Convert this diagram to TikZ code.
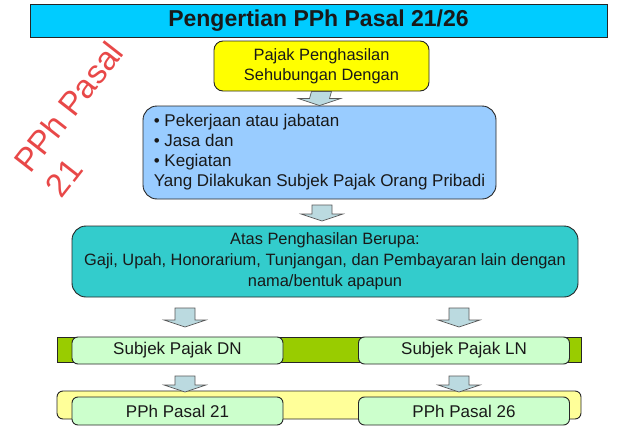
\documentclass[tikz,border=0pt]{standalone}
\usepackage{fontspec}
\setmainfont{Liberation Sans}
\usetikzlibrary{calc}
\definecolor{titlecyan}{HTML}{00CCFF}
\definecolor{boxyellow}{HTML}{FFFF00}
\definecolor{boxblue}{HTML}{99CCFF}
\definecolor{boxteal}{HTML}{33CCCC}
\definecolor{bargreen}{HTML}{99CC00}
\definecolor{boxlgreen}{HTML}{CCFFCC}
\definecolor{baryellow}{HTML}{FFFF99}
\definecolor{arrowfill}{HTML}{BBDAE0}
\definecolor{sidered}{RGB}{232,72,72}
\newcommand\blockarr[2]{%
  \draw[barrow] ($(#1)+(-10,0)$) -- ($(#2)+(-10,-7)$) -- ($(#2)+(-21,-7)$) -- (#2)
    -- ($(#2)+(21,-7)$) -- ($(#2)+(10,-7)$) -- ($(#1)+(10,0)$) -- cycle;}
\begin{document}
\begin{tikzpicture}[x=1pt,y=-1pt,
  box/.style={draw=black!85, line width=0.9pt, inner sep=0pt,
    font=\fontsize{16.4}{20}\selectfont, text=black!90},
  barrow/.style={draw=black!65, fill=arrowfill, line width=0.7pt},
  smallbox/.style={box, fill=boxlgreen, rounded corners=6, minimum width=211, minimum height=27,
    font=\fontsize{17}{20}\selectfont}]
\useasboundingbox (0,0) rectangle (638,442);

\node[box, fill=titlecyan, minimum width=577, minimum height=33,
  font=\fontsize{23}{27}\selectfont\bfseries] (title) at (318.5,20.5) {Pengertian PPh Pasal 21/26};

\node[inner sep=0pt, anchor=center, rotate=52, align=left, text=sidered,
  font=\fontsize{33}{40}\selectfont] (side) at (84,119) {PPh Pasal\\21};

\node[box, fill=boxyellow, rounded corners=9, minimum width=215, minimum height=50,
  align=center] (ppj) at (321.5,66) {Pajak Penghasilan\\Sehubungan Dengan};

\node[box, fill=boxblue, rounded corners=14, minimum height=93, minimum width=353,
  align=left, font=\fontsize{17}{20}\selectfont] (kind) at (319.5,152.5)
  {• Pekerjaan atau jabatan\\• Jasa dan\\• Kegiatan\\Yang Dilakukan Subjek Pajak Orang Pribadi};

\node[box, fill=boxteal, rounded corners=14, minimum width=506, minimum height=71,
  align=center, font=\fontsize{16.4}{21}\selectfont] (income) at (325,261.5)
  {Atas Penghasilan Berupa:\\Gaji, Upah, Honorarium, Tunjangan, dan Pembayaran lain dengan\\nama/bentuk apapun};

\node[box, fill=bargreen, minimum width=524, minimum height=25] (gbar) at (319,349.5) {};
\node[smallbox] (dn) at (177.5,350.5) {Subjek Pajak DN};
\node[smallbox] (ln) at (464,350.5) {Subjek Pajak LN};

\node[box, fill=baryellow, rounded corners=6, minimum width=524, minimum height=28] (ybar) at (319,405) {};
\node[smallbox, minimum height=28] (p21) at (177.5,411) {PPh Pasal 21};
\node[smallbox, minimum height=28] (p26) at (464,411) {PPh Pasal 26};

\coordinate (a1s) at (ppj.south);
\coordinate (a1e) at (kind.north);
\coordinate (a2s) at (322,205);
\coordinate (a2e) at (322,221);
\coordinate (a3s) at (185,308);
\coordinate (a3e) at (185,327);
\coordinate (a4s) at (459,308);
\coordinate (a4e) at (459,327);
\coordinate (a5s) at (185,376);
\coordinate (a5e) at (185,392);
\coordinate (a6s) at (459,376);
\coordinate (a6e) at (459,392);
\blockarr{a1s}{a1e}
\blockarr{a2s}{a2e}
\blockarr{a3s}{a3e}
\blockarr{a4s}{a4e}
\blockarr{a5s}{a5e}
\blockarr{a6s}{a6e}
\end{tikzpicture}
\end{document}
